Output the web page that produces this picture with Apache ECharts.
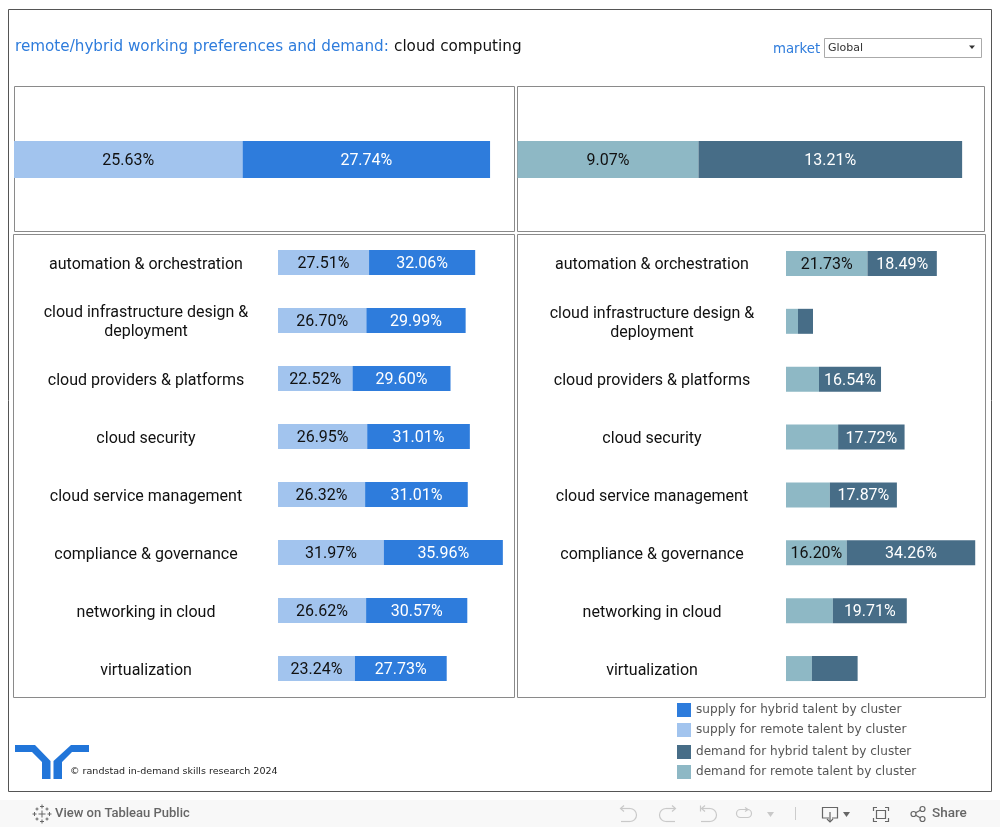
<!DOCTYPE html>
<html>
<head>
<meta charset="utf-8">
<style>html,body{margin:0;padding:0;background:#fff}#c{width:1000px;height:827px}</style>
<script src="https://cdn.jsdelivr.net/npm/echarts@6/dist/echarts.min.js"></script>
</head>
<body>
<div id="c"></div>
<script>
const categories = ['automation & orchestration','cloud infrastructure design &\ndeployment','cloud providers & platforms','cloud security','cloud service management','compliance & governance','networking in cloud','virtualization'];
const supplyRemote = [27.51,26.70,22.52,26.95,26.32,31.97,26.62,23.24];
const supplyHybrid = [32.06,29.99,29.60,31.01,31.01,35.96,30.57,27.73];
const demandRemote = [21.73,3.2,8.8,13.9,11.7,16.20,12.5,6.9];
const demandHybrid = [18.49,4.0,16.54,17.72,17.87,34.26,19.71,12.2];
const demandRemoteLabelled = [true,false,false,false,false,true,false,false];
const demandHybridLabelled = [true,false,true,true,true,true,true,false];
const totalSupplyRemote = [25.63];
const totalSupplyHybrid = [27.74];
const totalDemandRemote = [9.07];
const totalDemandHybrid = [13.21];

const C_SH='#2e7cdc', C_SR='#a2c4ee', C_DH='#476d87', C_DR='#8eb8c5';
const N_SH='supply for hybrid talent by cluster', N_SR='supply for remote talent by cluster',
      N_DH='demand for hybrid talent by cluster', N_DR='demand for remote talent by cluster';
const FONT='Roboto';

function bar(name,color,data,idx,barWidth,txt,shown){
  return {type:'bar',name,stack:'s'+idx,xAxisIndex:idx,yAxisIndex:idx,barWidth,data,
    itemStyle:{color},silent:true,
    label:{show:true,position:'inside',offset:[0,1.5],color:txt,fontFamily:FONT,fontSize:16,
      formatter:p=>(shown&&!shown[p.dataIndex])?'':p.value.toFixed(2)+'%'}};
}
function box(x,y,w,h,stroke,lw){
  return {type:'rect',silent:true,z:-1,shape:{x:x+.5,y:y+.5,width:w,height:h},style:{fill:'none',stroke,lineWidth:lw||1}};
}
function txt(x,y,text,font,fill,align){
  return {type:'text',silent:true,x,y,style:{text,font,fill,align:align||'left',verticalAlign:'middle'}};
}
function pth(d,fill,stroke){
  return {type:'polygon',silent:true,shape:{points:d},style:{fill:fill||'none',stroke:stroke||null}};
}
function line(pts,stroke,w){
  return {type:'polyline',silent:true,shape:{points:pts},style:{fill:'none',stroke,lineWidth:w||1.2}};
}
function circ(x,y,r,stroke,w){
  return {type:'circle',silent:true,shape:{cx:x,cy:y,r},style:{fill:'none',stroke,lineWidth:w||1.2}};
}
function arc(x,y,r,a,b,stroke,w){
  return {type:'arc',silent:true,shape:{cx:x,cy:y,r,startAngle:a,endAngle:b,clockwise:true},style:{fill:'none',stroke,lineWidth:w||1.2}};
}
function plus(x,y,a,stroke){
  return [line([[x,y-a],[x,y+a]],stroke,1),line([[x-a,y],[x+a,y]],stroke,1)];
}

const grey='#c9c9c9', dark='#666';
const graphics=[
  box(8,9,983,782,'#555'),
  box(14,86,500,145,'#8a8a8a'), box(517,86,467,145,'#8a8a8a'),
  box(13,234,501,463,'#8a8a8a'), box(517,234,468,463,'#8a8a8a'),
  txt(15,47,'remote/hybrid working preferences and demand:','15.2px "DejaVu Sans"',C_SH),
  txt(394,47,'cloud computing','15.25px "DejaVu Sans"','#111'),
  txt(773,49.5,'market','13.3px "DejaVu Sans"',C_SH),
  {type:'rect',silent:true,shape:{x:824.5,y:38.5,width:157,height:19},style:{fill:'#fff',stroke:'#aaa'}},
  txt(828,48.5,'Global','11px "DejaVu Sans"','#333'),
  pth([[969,45.5],[975,45.5],[972,49]],'#333'),
  // logo
  pth([[15,745],[35,745],[50.5,761],[50.5,779],[42,779],[42,762],[32,752],[15,752]],'#2175d9'),
  pth([[89,745],[71,745],[53.5,761],[53.5,779],[62,779],[62,762],[72,752],[89,752]],'#2175d9'),
  txt(70,772,'© randstad in-demand skills research 2024','9.55px "DejaVu Sans"','#222'),
  // toolbar
  {type:'rect',silent:true,z:-2,shape:{x:0,y:800,width:1000,height:27},style:{fill:'#f8f8f8'}},
  txt(55,814,'View on Tableau Public','500 13px Roboto',dark),
  txt(932,814,'Share','500 13.5px Roboto',dark),
  // tableau mark
  ...plus(42,814,3.5,dark),
  ...plus(42,806.5,2,dark), ...plus(42,821.5,2,dark), ...plus(34.5,814,2,dark), ...plus(49.5,814,2,dark),
  ...plus(37,809,1.5,dark), ...plus(47,809,1.5,dark), ...plus(37,819,1.5,dark), ...plus(47,819,1.5,dark),
  // undo / redo / revert / refresh
  line([[624,805.5],[620.5,808.5],[624,811.5]],grey), line([[621,808.5],[630,808.5]],grey), arc(630,815,6.5,-Math.PI/2,Math.PI/2,grey), line([[630,821.5],[621,821.5]],grey),
  line([[672,805.5],[675.5,808.5],[672,811.5]],grey), line([[675,808.5],[666,808.5]],grey), arc(666,815,6.5,Math.PI/2,3*Math.PI/2,grey), line([[666,821.5],[675,821.5]],grey),
  line([[700.5,805.5],[700.5,811.5]],grey), line([[705,805.5],[701.5,808.5],[705,811.5]],grey), line([[702,808.5],[710,808.5]],grey), arc(710,815,6.5,-Math.PI/2,Math.PI/2,grey), line([[710,821.5],[701,821.5]],grey),
  {type:'rect',silent:true,shape:{x:736.5,y:809.5,width:15,height:8,r:4},style:{fill:'none',stroke:grey,lineWidth:1.2}},
  line([[745,807.5],[748,809.5],[745,811.5]],grey),
  pth([[767,812],[774,812],[770.5,817]],grey),
  line([[795.5,807],[795.5,820]],'#ccc',1),
  // download
  line([[829,818],[822.5,818],[822.5,807.5],[837.5,807.5],[837.5,818],[832,818]],dark), line([[830,812],[830,822]],dark), line([[827,819],[830,822],[833,819]],dark),
  pth([[843,812],[850,812],[846.5,817]],dark),
  // fullscreen
  line([[873.5,811],[873.5,807.5],[877,807.5]],dark), line([[885,807.5],[888.5,807.5],[888.5,811]],dark),
  line([[873.5,818],[873.5,821.5],[877,821.5]],dark), line([[885,821.5],[888.5,821.5],[888.5,818]],dark),
  {type:'rect',silent:true,shape:{x:876.5,y:810.5,width:9,height:8},style:{fill:'none',stroke:dark,lineWidth:1.2}},
  // share
  circ(913.5,814,2.5,dark), circ(922.5,809,2.5,dark), circ(922.5,819,2.5,dark),
  line([[915.7,812.8],[920.3,810.2]],dark), line([[915.7,815.2],[920.3,817.8]],dark)
];

const hiddenX=(max,gridIndex)=>({type:'value',min:0,max,show:false,gridIndex});
const legendText={fontFamily:'DejaVu Sans',fontSize:12.1,color:'#555',padding:[2,0,0,0]};

const option={
  animation:false,
  backgroundColor:'#fff',
  textStyle:{fontFamily:FONT},
  grid:[
    {left:14,top:87,width:490.6,height:145},
    {left:278,top:233.5,width:231.7,height:464},
    {left:517.5,top:87,width:459,height:145},
    {left:786,top:234.5,width:206.25,height:463}
  ],
  xAxis:[hiddenX(55,0),hiddenX(70,1),hiddenX(23,2),hiddenX(55,3)],
  yAxis:[0,1,2,3].map(i=>({
    type:'category',gridIndex:i,inverse:true,
    data:i%2?categories:['total'],
    show:!!(i%2),
    axisLine:{show:false},axisTick:{show:false},splitLine:{show:false},
    axisLabel:{show:!!(i%2),color:'#111',fontFamily:FONT,fontSize:16,align:'center',margin:i===1?132:134,interval:0,
      formatter:v=>'{s| }\n'+v.split('\n').map(l=>'{a|'+l+'}').join('\n'),
      rich:{
        s:{height:4,lineHeight:4,fontSize:1},
        a:{color:'#111',fontFamily:FONT,fontSize:16,lineHeight:19,align:'center'}
      }}
  })),
  legend:[
    {orient:'vertical',left:677,top:703,padding:0,itemWidth:14,itemHeight:14,itemGap:6,icon:'rect',selectedMode:false,
     data:[N_SH,N_SR],textStyle:legendText},
    {orient:'vertical',left:677,top:745,padding:0,itemWidth:14,itemHeight:14,itemGap:6,icon:'rect',selectedMode:false,
     data:[N_DH,N_DR],textStyle:legendText}
  ],
  series:[
    bar(N_SR,C_SR,totalSupplyRemote,0,37,'#111'),
    bar(N_SH,C_SH,totalSupplyHybrid,0,37,'#fff'),
    bar(N_SR,C_SR,supplyRemote,1,25,'#111'),
    bar(N_SH,C_SH,supplyHybrid,1,25,'#fff'),
    bar(N_DR,C_DR,totalDemandRemote,2,37,'#111'),
    bar(N_DH,C_DH,totalDemandHybrid,2,37,'#fff'),
    bar(N_DR,C_DR,demandRemote,3,25,'#111',demandRemoteLabelled),
    bar(N_DH,C_DH,demandHybrid,3,25,'#fff',demandHybridLabelled)
  ],
  graphic:{elements:graphics}
};
const chart=echarts.init(document.getElementById('c'),null,{renderer:'canvas'});
chart.setOption(option);
</script>
</body>
</html>
